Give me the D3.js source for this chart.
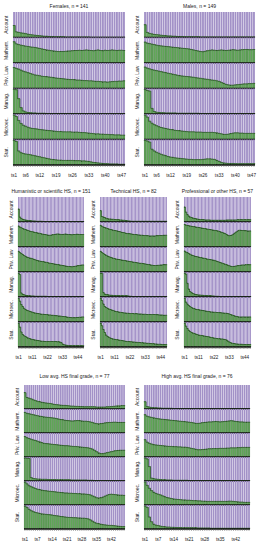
<!DOCTYPE html>
<html>
<head>
<meta charset="utf-8">
<script src="https://cdn.jsdelivr.net/npm/d3@7"></script>
<style>
  body { margin: 0; background: #fff; }
  svg { display: block; }
  text { font-family: "Liberation Sans", Arial, sans-serif; fill: #222; }
</style>
</head>
<body>
<svg id="chart" width="263" height="550"></svg>
<script>
"use strict";

// row labels, time steps and per-panel tick labels
const subjects = ["Account", "Mathem.", "Priv. Law", "Manag.", "Microec.", "Stat."];
const steps = d3.range(1, 49).map(i => "ts" + i);
const titles = ["Females, n = 141", "Males, n = 149", "Humanistic or scientific HS, n = 151",
    "Technical HS, n = 82", "Professional or other HS, n = 57",
    "Low avg. HS final grade, n = 77", "High avg. HS final grade, n = 76"];
const ticksWide = ["ts1", "ts6", "ts12", "ts19", "ts26", "ts33", "ts40", "ts47"];
const ticksNarrow = ["ts1", "ts11", "ts22", "ts33", "ts44"];
const ticksGrade = ["ts1", "ts7", "ts14", "ts21", "ts28", "ts35", "ts42"];

// % of students in the green state, one row per subject, one value per time step
const females = [
    [47,22,20,18,17,15,13,11,10,9,8,7,6,5,5,4,4,3,3,3,3,3,2,2,2,2,2,2,2,2,2,2,2,1,1,1,1,1,1,1,1,1,1,1,1,1,1,1],
    [83,75,72,70,68,66,65,63,62,61,59,57,55,53,51,50,48,47,46,45,45,45,46,47,47,48,49,49,50,49,50,51,50,49,48,50,51,49,48,50,49,50,51,50,49,50,50,49],
    [82,79,76,72,68,65,62,59,56,53,52,50,48,47,46,45,44,42,41,40,39,38,37,36,35,35,34,33,33,32,31,31,30,30,29,28,28,27,26,26,25,26,27,28,28,29,29,30],
    [97,95,60,25,12,8,6,5,4,4,3,3,3,3,2,2,2,2,2,2,2,2,2,2,2,2,2,2,2,2,1,1,1,1,1,1,1,1,1,1,1,1,1,1,1,1,1,1],
    [96,90,75,63,56,52,48,45,43,42,41,39,38,37,36,35,34,33,32,31,31,30,30,30,30,29,29,29,28,27,27,26,25,24,23,22,22,21,21,20,20,19,19,18,18,18,17,17],
    [96,92,55,48,45,43,42,40,38,36,34,32,30,28,26,24,22,21,20,19,19,18,18,18,18,18,17,17,17,16,16,15,14,12,10,9,8,7,6,5,5,4,4,4,4,3,3,3]
];
const males = [
    [50,20,16,14,12,11,10,9,8,7,6,6,5,5,4,4,4,3,3,3,3,3,3,3,2,2,2,2,2,2,2,2,2,2,2,2,2,2,2,2,2,2,2,2,2,2,2,2],
    [82,78,76,74,72,70,68,67,66,65,64,63,62,61,60,59,58,57,56,55,53,51,49,47,45,44,46,48,50,51,50,49,50,51,50,49,50,51,52,51,50,51,52,53,53,52,52,53],
    [84,80,77,74,72,70,68,66,64,62,60,58,56,54,52,50,49,48,47,46,45,44,42,41,40,38,37,36,34,33,32,30,28,24,20,16,14,13,13,14,15,16,17,18,18,19,19,20],
    [96,92,90,22,10,7,6,5,5,4,4,4,4,4,3,3,3,3,3,3,3,3,3,3,2,2,2,2,2,2,2,2,2,2,2,2,2,2,2,2,2,2,2,2,2,2,2,2],
    [96,88,72,64,58,54,50,47,45,43,41,39,38,36,35,34,33,32,31,30,30,30,29,29,29,28,28,28,28,28,27,26,24,22,20,20,21,23,25,26,26,25,25,24,24,24,24,24],
    [96,94,90,62,55,50,46,42,39,36,33,31,30,28,27,26,25,24,23,22,22,21,21,21,21,22,23,24,24,23,22,18,14,10,8,7,6,6,6,5,5,5,5,5,5,5,5,5]
];
const humanistic = [
    [52,20,14,11,9,8,7,6,5,5,4,4,4,3,3,3,3,3,2,2,2,2,2,2,2,2,2,2,2,2,2,2,2,2,2,2,2,2,2,2,2,2,2,2,2,2,2,2],
    [84,80,77,74,72,70,68,66,64,62,61,60,58,57,56,55,54,52,51,50,49,48,47,47,48,49,50,51,52,52,51,50,50,51,52,51,50,50,49,49,50,50,51,51,50,50,50,50],
    [83,78,74,70,66,63,60,58,56,55,53,51,49,47,46,44,43,42,41,40,39,38,36,35,34,33,32,31,30,29,28,27,26,25,24,23,22,22,21,21,22,23,24,25,26,27,28,28],
    [96,90,16,11,9,7,6,5,5,4,4,4,3,3,3,3,3,3,3,3,3,2,2,2,2,2,2,2,2,2,2,2,2,2,2,2,2,2,2,2,2,2,2,2,2,2,2,2],
    [96,84,70,62,55,50,47,45,43,41,39,37,36,35,34,33,32,31,31,30,30,29,28,28,27,27,26,25,25,24,24,23,22,22,21,20,19,18,18,17,17,17,18,18,19,19,20,20],
    [96,80,60,50,45,42,39,36,34,32,30,29,28,27,26,25,24,23,23,22,22,22,22,22,22,22,22,22,21,21,20,18,12,9,8,7,6,6,6,5,5,5,5,5,5,5,5,5]
];
const technical = [
    [45,22,20,18,15,13,12,12,11,11,10,10,9,9,8,8,7,7,6,5,4,4,3,3,3,3,3,3,3,3,3,3,3,3,3,3,3,3,3,3,3,3,3,3,3,3,3,3],
    [87,83,80,78,76,74,72,70,69,67,66,65,64,62,61,59,58,57,55,54,53,53,52,51,50,50,49,48,48,47,47,46,46,45,45,44,44,44,44,44,45,45,46,46,46,47,47,47],
    [83,78,74,70,67,64,61,59,57,55,54,52,51,50,49,48,47,46,45,44,43,42,41,40,39,38,37,36,35,35,34,33,32,31,30,29,28,27,26,26,26,27,27,28,28,29,29,29],
    [96,94,18,12,10,9,8,7,7,6,6,6,6,5,5,5,5,5,5,5,4,3,3,2,2,2,2,2,2,2,2,2,2,2,2,2,2,2,2,2,2,2,2,2,2,2,2,2],
    [96,86,72,62,58,55,52,50,48,46,44,42,41,40,39,38,37,36,36,35,35,34,34,34,33,33,33,32,32,32,31,31,31,30,30,30,30,30,30,30,29,29,28,28,28,27,27,27],
    [96,85,70,58,48,42,39,36,34,32,31,30,29,28,27,26,25,24,23,22,22,21,21,20,20,19,19,18,18,17,17,16,16,15,15,14,14,13,13,12,12,11,11,11,10,10,10,10]
];
const professional = [
    [60,40,30,24,20,18,16,14,13,12,11,10,10,9,9,8,8,8,8,7,7,7,7,7,7,7,7,7,7,7,8,8,8,8,8,8,8,8,9,9,9,9,9,9,9,9,9,9],
    [90,88,86,85,84,83,82,81,80,79,78,77,76,75,74,73,72,71,70,69,68,67,66,65,64,62,60,58,56,54,50,47,45,46,48,52,56,60,64,67,67,66,66,65,65,64,64,64],
    [84,80,77,74,71,68,66,64,62,61,60,58,57,56,55,54,52,51,50,49,48,47,45,43,41,39,37,35,33,31,29,27,25,23,22,22,23,24,25,26,27,28,28,28,29,29,29,29],
    [96,92,55,32,22,17,14,12,10,9,8,8,7,7,6,6,6,5,5,5,4,4,3,3,3,2,2,2,2,2,2,2,2,2,2,2,2,2,2,2,2,2,2,2,2,2,2,2],
    [96,80,72,66,62,58,55,53,51,50,49,48,47,46,45,44,43,42,41,40,40,39,39,38,38,37,37,36,36,35,35,34,32,30,28,26,24,22,21,20,20,20,20,20,20,20,20,20],
    [96,84,74,67,62,58,56,54,52,50,48,47,46,45,44,43,42,41,40,38,37,36,35,34,33,33,32,32,31,30,28,24,20,17,15,14,13,12,12,11,11,11,10,10,10,10,10,10]
];
const lowGrade = [
    [68,48,45,42,38,35,32,30,28,26,25,24,23,21,19,18,17,16,15,15,14,13,12,12,11,11,10,10,9,9,9,9,9,9,8,8,8,8,8,9,9,10,11,12,13,13,14,14],
    [86,82,80,78,76,74,72,70,69,67,66,65,64,63,62,60,58,56,55,53,52,51,50,50,51,52,51,50,49,49,48,46,44,41,39,38,39,40,42,43,44,44,45,45,44,44,44,44],
    [85,80,77,74,71,69,66,63,60,57,56,55,54,53,52,51,50,49,48,47,47,46,45,44,44,43,42,41,40,39,38,36,33,28,22,17,14,14,16,18,20,22,24,26,27,28,28,28],
    [96,95,94,14,10,9,8,8,7,7,7,6,6,6,6,5,5,5,5,5,5,5,4,4,4,4,4,4,4,4,3,3,3,2,2,2,2,2,2,1,1,1,1,1,1,1,1,1],
    [96,88,80,76,72,69,66,64,62,60,59,58,57,56,55,54,53,52,51,50,50,49,49,48,48,47,47,46,46,45,44,42,38,34,30,29,30,33,37,41,44,45,44,43,42,41,41,40],
    [96,90,82,76,72,69,67,65,63,62,61,60,59,58,56,55,54,52,51,50,49,48,48,47,47,46,46,45,45,44,42,38,33,28,24,22,20,18,17,16,15,15,14,13,12,11,10,10]
];
const highGrade = [
    [30,10,8,6,5,5,4,4,3,3,3,3,3,2,2,2,2,2,2,2,2,2,2,2,2,2,2,2,2,2,2,2,2,2,2,2,2,2,2,2,2,2,2,2,2,2,2,2],
    [76,70,67,65,63,61,59,58,57,56,55,54,53,52,51,50,49,48,47,46,45,44,42,40,40,41,43,44,45,46,46,47,48,47,46,47,48,49,50,51,50,48,47,46,46,45,45,45],
    [72,62,57,54,51,50,49,48,47,46,45,44,44,43,43,42,42,41,41,40,38,36,34,32,30,30,31,32,33,34,34,35,35,35,36,36,36,37,37,38,38,38,39,39,40,40,40,40],
    [96,92,60,12,9,8,7,6,5,5,4,4,4,3,3,3,3,3,3,3,2,2,2,2,2,2,2,2,2,2,2,2,2,2,2,2,2,2,2,2,2,2,2,2,2,2,2,2],
    [96,82,70,60,53,48,45,42,38,34,31,29,27,25,24,23,22,21,21,20,20,19,18,18,17,17,16,16,15,15,15,15,15,15,15,15,15,15,16,16,15,14,13,12,12,11,11,11],
    [96,90,50,30,20,16,14,12,10,9,8,8,7,7,6,6,6,5,5,5,5,5,5,5,4,4,4,4,4,4,3,3,3,3,3,3,3,3,3,3,3,3,3,3,3,3,3,3]
];

const GREEN = "#5fa757",
    GREEN_EDGE = "#2e5c2a",
    PURPLE = "#a291c7";

const panels = [
    { data: females, title: titles[0], ticks: ticksWide, left: 13, right: 125, top: 12, bottom: 165, titleY: 8, labelY: 177 },
    { data: males, title: titles[1], ticks: ticksWide, left: 144, right: 255, top: 12, bottom: 165, titleY: 8, labelY: 177 },
    { data: humanistic, title: titles[2], ticks: ticksNarrow, left: 18, right: 84, top: 197, bottom: 347, titleY: 193, labelY: 359 },
    { data: technical, title: titles[3], ticks: ticksNarrow, left: 100, right: 167, top: 197, bottom: 347, titleY: 193, labelY: 359 },
    { data: professional, title: titles[4], ticks: ticksNarrow, left: 184, right: 251, top: 197, bottom: 347, titleY: 193, labelY: 359 },
    { data: lowGrade, title: titles[5], ticks: ticksGrade, left: 24, right: 125, top: 385, bottom: 529, titleY: 378, labelY: 541 },
    { data: highGrade, title: titles[6], ticks: ticksGrade, left: 144, right: 250, top: 385, bottom: 529, titleY: 378, labelY: 541 }
];

const svg = d3.select("#chart");
panels.forEach(drawPanel);

function drawPanel(p) {
    const g = svg.append("g");

    const x = d3.scaleBand()
        .domain(steps)
        .range([p.left, p.right])
        .paddingInner(0.2)
        .paddingOuter(0.05);

    const row = d3.scaleBand()
        .domain(subjects)
        .range([p.top, p.bottom]);

    subjects.forEach((s, i) => {
        const y = d3.scaleLinear()
            .domain([0, 100])
            .range([row(s) + row.bandwidth(), row(s)]);
        const vals = p.data[i].map((v, j) => ({ step: steps[j], v: v }));
        const rg = g.append("g");

        rg.selectAll("rect.top")
            .data(vals)
            .enter()
            .append("rect")
            .attr("class", "top")
            .attr("x", d => x(d.step))
            .attr("y", y(100))
            .attr("width", x.bandwidth())
            .attr("height", d => y(d.v) - y(100))
            .attr("fill", PURPLE);

        rg.selectAll("rect.low")
            .data(vals)
            .enter()
            .append("rect")
            .attr("class", "low")
            .attr("x", d => x(d.step))
            .attr("y", d => y(d.v))
            .attr("width", x.bandwidth())
            .attr("height", d => y(0) - y(d.v))
            .attr("fill", GREEN)
            .attr("stroke", GREEN_EDGE)
            .attr("stroke-width", 0.3);

        // dark edge along the top of the green part
        const pts = [];
        vals.forEach(d => {
            pts.push([x(d.step) - x.step() * x.paddingInner() / 2, y(d.v)]);
            pts.push([x(d.step) + x.bandwidth() + x.step() * x.paddingInner() / 2, y(d.v)]);
        });
        rg.append("path")
            .attr("d", d3.line()(pts))
            .attr("fill", "none")
            .attr("stroke", GREEN_EDGE)
            .attr("stroke-width", 0.8);

        rg.append("line")
            .attr("x1", p.left)
            .attr("x2", p.right)
            .attr("y1", y(0))
            .attr("y2", y(0))
            .attr("stroke", "#111")
            .attr("stroke-width", 1.3);

        rg.append("text")
            .attr("transform", `translate(${p.left - 5},${row(s) + row.bandwidth() / 2}) rotate(-90)`)
            .attr("text-anchor", "middle")
            .attr("font-size", 5)
            .text(s);
    });

    const axis = d3.axisBottom(x)
        .tickSize(2)
        .tickPadding(p.labelY - p.bottom - 5)
        .tickFormat(d => p.ticks.includes(d) ? d : "");

    const ax = g.append("g")
        .attr("transform", `translate(0,${p.bottom})`)
        .call(axis);
    ax.select(".domain").remove();
    ax.selectAll(".tick line").attr("stroke", "#666").attr("stroke-width", 0.5);
    ax.selectAll(".tick text")
        .attr("font-size", 4.6)
        .attr("font-family", "Liberation Sans, Arial, sans-serif")
        .attr("fill", "#222");

    g.append("text")
        .attr("x", (p.left + p.right) / 2)
        .attr("y", p.titleY)
        .attr("text-anchor", "middle")
        .attr("font-size", 5)
        .text(p.title);
}
</script>
</body>
</html>
